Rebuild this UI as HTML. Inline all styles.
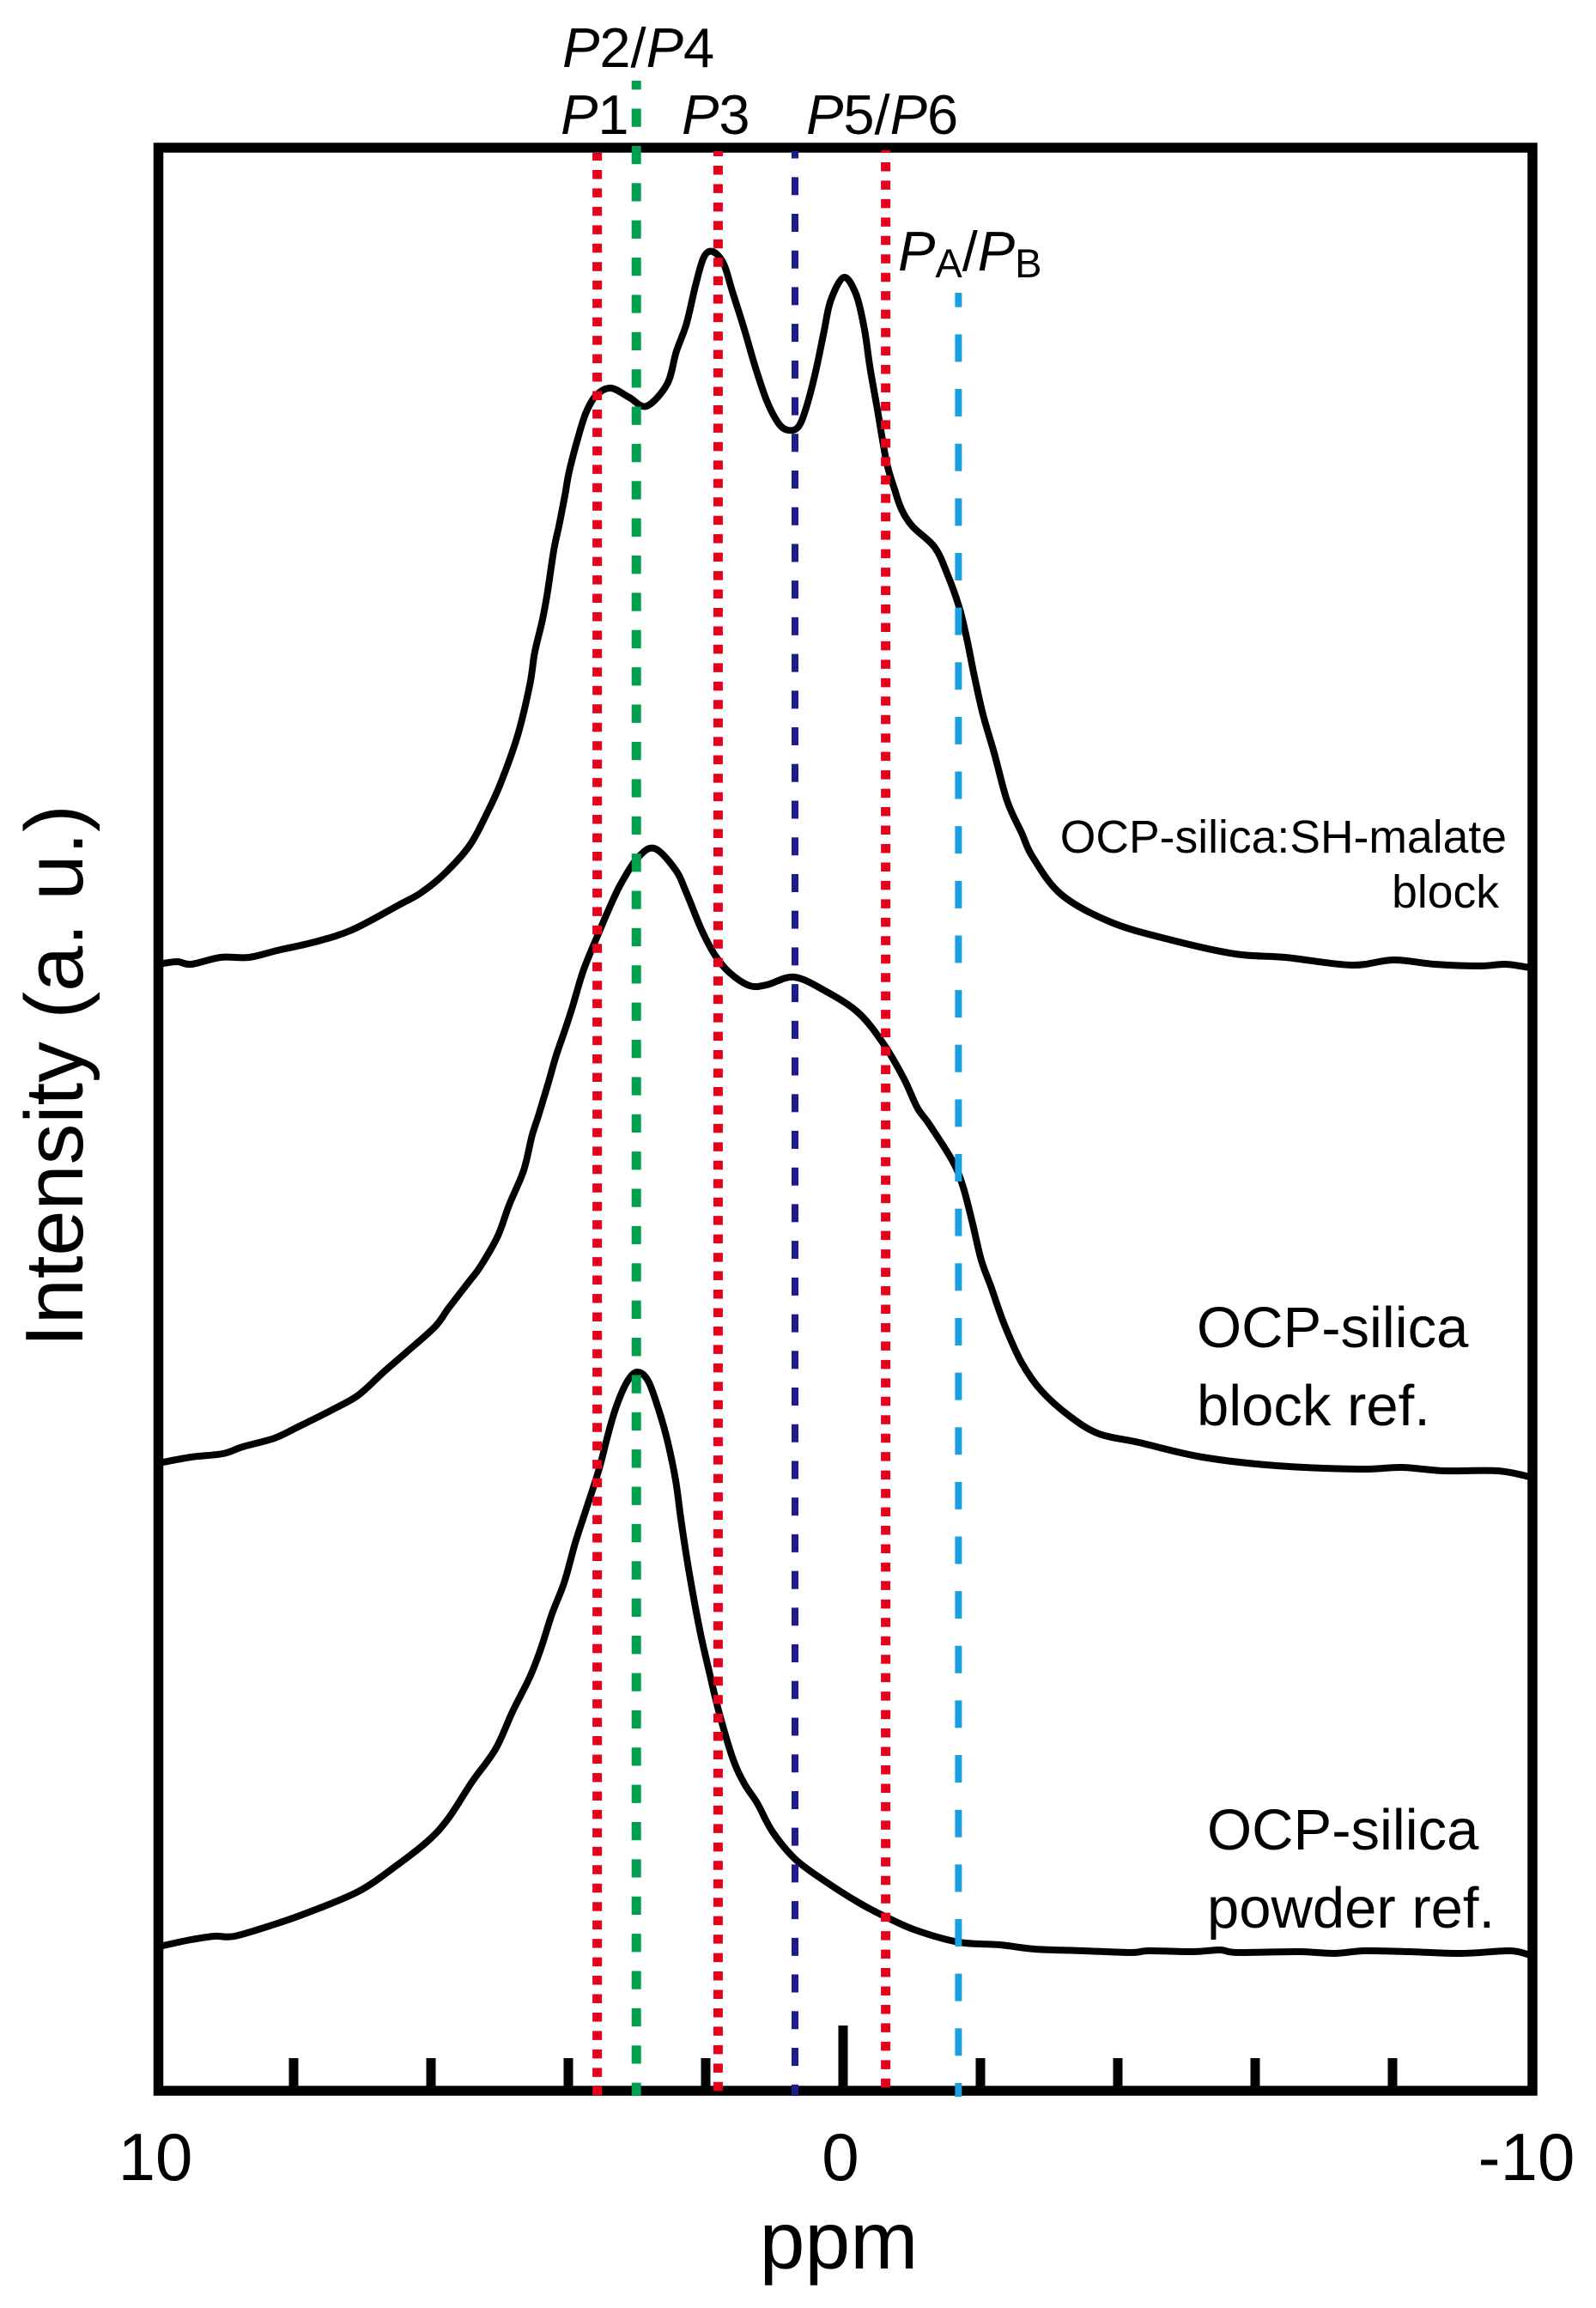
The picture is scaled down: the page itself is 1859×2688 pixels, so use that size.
<!DOCTYPE html>
<html lang="en">
<head>
<meta charset="utf-8">
<title>NMR spectra</title>
<style>
html,body{margin:0;padding:0;background:#fff;}
svg{display:block;}
text{font-family:"Liberation Sans",Arial,sans-serif;fill:#000;}
</style>
</head>
<body>
<svg id="chart" xmlns="http://www.w3.org/2000/svg" width="1859" height="2688" viewBox="0 0 1859 2688">
  <rect x="0" y="0" width="1859" height="2688" fill="#fff"/>
  <g id="series-layer"></g>
  <g id="tick-layer"></g>
  <rect x="184.5" y="172" width="1600.5" height="2263" fill="none" stroke="#000" stroke-width="11.5"/>
  <g id="peak-layer"></g>

  <text transform="translate(96,1253) rotate(-90)" text-anchor="middle" font-size="95.5">Intensity (a. u.)</text>
  <text x="977" y="2642" text-anchor="middle" font-size="95">ppm</text>
  <text x="181" y="2539" text-anchor="middle" font-size="78">10</text>
  <text x="979" y="2539" text-anchor="middle" font-size="78">0</text>
  <text x="1778" y="2539" text-anchor="middle" font-size="78">-10</text>

  <text x="655" y="78" font-size="65"><tspan font-style="italic">P</tspan>2/<tspan font-style="italic">P</tspan>4</text>
  <text x="653" y="156" font-size="65"><tspan font-style="italic">P</tspan>1</text>
  <text x="794" y="156" font-size="65"><tspan font-style="italic">P</tspan>3</text>
  <text x="939" y="156" font-size="65"><tspan font-style="italic">P</tspan>5/<tspan font-style="italic">P</tspan>6</text>
  <text x="1046" y="315" font-size="65"><tspan font-style="italic">P</tspan><tspan font-size="47" dy="8">A</tspan><tspan dy="-8">/</tspan><tspan font-style="italic">P</tspan><tspan font-size="47" dy="8">B</tspan></text>

  <text x="1755" y="993" text-anchor="end" font-size="53.5">OCP-silica:SH-malate</text>
  <text x="1746" y="1057" text-anchor="end" font-size="53.5">block</text>
  <text x="1394" y="1569" font-size="67">OCP-silica</text>
  <text x="1394" y="1660" font-size="67">block ref.</text>
  <text x="1406" y="2154" font-size="67">OCP-silica</text>
  <text x="1406" y="2245" font-size="67">powder ref.</text>
</svg>
<script>
// Chemical shift (ppm) and intensity (a.u.)
const malatePpm = [9.98,9.90,9.69,9.49,9.06,8.65,8.24,7.69,7.15,6.49,6.15,5.81,5.44,5.19,4.99,4.74,4.56,4.49,4.38,4.31,4.21,4.13,4.05,3.99,3.86,3.74,3.59,3.38,3.11,2.86,2.56,2.43,2.28,2.15,2.03,1.90,1.74,1.61,1.44,1.28,1.11,0.94,0.80,0.65,0.53,0.40,0.28,0.18,-0.01,-0.19,-0.31,-0.39,-0.50,-0.63,-0.75,-0.85,-1.01,-1.33,-1.51,-1.69,-1.81,-1.91,-2.04,-2.20,-2.39,-2.60,-2.76,-3.18,-3.90,-4.74,-5.71,-6.44,-7.40,-8.01,-8.61,-9.28,-9.64,-10];
const malateIntensity = [1319,1319,1321,1318,1326,1326,1334,1344,1358,1386,1401,1423,1456,1493,1528,1584,1644,1681,1718,1748,1801,1831,1864,1891,1931,1961,1981,1989,1978,1968,1994,2031,2064,2108,2141,2148,2134,2101,2058,2014,1974,1948,1940,1944,1968,2008,2054,2091,2118,2098,2058,2014,1964,1904,1871,1848,1828,1804,1774,1734,1694,1654,1608,1564,1508,1471,1443,1399,1367,1347,1330,1326,1317,1323,1318,1316,1318,1314];

const blockPpm = [9.98,9.90,9.49,9.03,8.74,8.28,7.94,7.44,7.06,6.69,6.36,5.94,5.74,5.44,5.28,5.03,4.86,4.65,4.53,4.43,4.28,4.18,4.03,3.93,3.78,3.56,3.40,3.24,3.00,2.75,2.44,2.28,2.06,1.86,1.65,1.36,1.11,0.71,0.24,-0.23,-0.60,-0.89,-1.08,-1.26,-1.60,-1.75,-1.88,-2.01,-2.16,-2.35,-2.60,-2.89,-3.31,-3.73,-4.31,-5.23,-6.31,-7.53,-8.13,-8.74,-9.53,-10];
const blockIntensity = [736,738,744,748,756,766,779,799,816,843,866,896,918,949,966,1001,1038,1078,1118,1143,1183,1211,1246,1271,1311,1354,1384,1411,1441,1453,1428,1401,1358,1328,1308,1293,1294,1303,1286,1261,1224,1184,1151,1131,1088,1058,1018,974,941,898,854,821,791,771,761,744,734,730,732,728,728,721];

const powderPpm = [9.98,9.90,9.49,9.15,8.86,8.31,7.81,7.06,6.49,6.03,5.74,5.40,5.06,4.81,4.56,4.40,4.24,4.06,3.90,3.75,3.56,3.43,3.31,3.15,3.00,2.84,2.68,2.56,2.44,2.36,2.25,2.09,1.94,1.81,1.61,1.44,1.25,1.03,0.70,0.28,-0.23,-0.61,-1.06,-1.69,-2.28,-2.79,-3.50,-4.20,-4.45,-5.10,-5.49,-5.74,-6.64,-7.15,-7.60,-8.24,-9.01,-9.71,-10];
const powderIntensity = [173,175,182,186,186,199,213,238,269,298,324,366,404,448,488,521,561,598,644,681,728,768,801,831,843,833,798,764,718,671,614,544,491,448,394,364,341,308,276,251,225,209,193,179,176,171,169,167,169,168,170,167,168,166,169,168,166,169,164];

const minorTicks = [8,6,4,2,-2,-4,-6,-8];
const majorTicks = [0];
const redPeaks = [3.58,1.82,-0.62];
const greenPeaks = [3.01];
const navyPeaks = [0.70];
const cyanPeaks = [-1.68];

const SVG_NS = 'http://www.w3.org/2000/svg';
function xScale(ppm){ return 982 - 80 * ppm; }
function yScale(v){ return 2441 - v; }

function smoothPath(xs, ys){
  const pts = xs.map(function(x, i){ return [xScale(x), yScale(ys[i])]; });
  let d = 'M' + pts[0][0].toFixed(1) + ' ' + pts[0][1].toFixed(1);
  for (let i = 0; i < pts.length - 1; i++) {
    const p0 = pts[Math.max(i - 1, 0)];
    const p1 = pts[i];
    const p2 = pts[i + 1];
    const p3 = pts[Math.min(i + 2, pts.length - 1)];
    const c1x = p1[0] + (p2[0] - p0[0]) / 6;
    const c1y = p1[1] + (p2[1] - p0[1]) / 6;
    const c2x = p2[0] - (p3[0] - p1[0]) / 6;
    const c2y = p2[1] - (p3[1] - p1[1]) / 6;
    d += ' C' + c1x.toFixed(1) + ' ' + c1y.toFixed(1) + ' ' + c2x.toFixed(1) + ' ' + c2y.toFixed(1) + ' ' + p2[0].toFixed(1) + ' ' + p2[1].toFixed(1);
  }
  return d;
}

const seriesLayer = document.getElementById('series-layer');
const tickLayer = document.getElementById('tick-layer');
const peakLayer = document.getElementById('peak-layer');

function drawSeries(xs, ys, name){
  const el = document.createElementNS(SVG_NS, 'path');
  el.setAttribute('d', smoothPath(xs, ys));
  el.setAttribute('fill', 'none');
  el.setAttribute('stroke', '#000');
  el.setAttribute('stroke-width', '8');
  el.setAttribute('stroke-linejoin', 'round');
  
  
  seriesLayer.appendChild(el);
}
drawSeries(malatePpm, malateIntensity, 'spectrum-sh-malate-block');
drawSeries(blockPpm, blockIntensity, 'spectrum-block-ref');
drawSeries(powderPpm, powderIntensity, 'spectrum-powder-ref');

function drawTick(ppm, top, name){
  const el = document.createElementNS(SVG_NS, 'line');
  el.setAttribute('x1', xScale(ppm));
  el.setAttribute('x2', xScale(ppm));
  el.setAttribute('y1', top);
  el.setAttribute('y2', 2435);
  el.setAttribute('stroke', '#000');
  el.setAttribute('stroke-width', '11');
  
  
  tickLayer.appendChild(el);
}
minorTicks.forEach(function(t){ drawTick(t, 2397, 'minor-tick'); });
majorTicks.forEach(function(t){ drawTick(t, 2359, 'major-tick'); });

function drawPeak(ppm, top, bottom, color, width, on, off, firstDash, name){
  const period = on + off;
  const offset = ((top - firstDash) % period + period) % period;
  const el = document.createElementNS(SVG_NS, 'line');
  el.setAttribute('x1', xScale(ppm));
  el.setAttribute('x2', xScale(ppm));
  el.setAttribute('y1', top);
  el.setAttribute('y2', bottom);
  el.setAttribute('stroke', color);
  el.setAttribute('stroke-width', width);
  el.setAttribute('stroke-dasharray', on + ' ' + off);
  el.setAttribute('stroke-dashoffset', offset.toFixed(2));
  
  
  peakLayer.appendChild(el);
}
drawPeak(redPeaks[0], 178, 2441, '#e60019', 11, 10.5, 10.96, 283.8, 'peak-line-p1');
drawPeak(redPeaks[1], 176, 2441, '#e60019', 11, 10.5, 10.96, 278.8, 'peak-line-p3');
drawPeak(redPeaks[2], 175, 2441, '#e60019', 11, 10.5, 10.96, 274.8, 'peak-line-p5-p6');
drawPeak(greenPeaks[0], 94, 2441, '#00a04e', 11, 21.3, 22.08, 300, 'peak-line-p2-p4');
drawPeak(navyPeaks[0], 176, 2441, '#1c1c8c', 8, 21, 21.72, 291.7, 'peak-line-navy');
drawPeak(cyanPeaks[0], 341, 2442, '#1b9fe0', 8, 32, 31.64, 516.7, 'peak-line-pa-pb');
</script>
</body>
</html>
